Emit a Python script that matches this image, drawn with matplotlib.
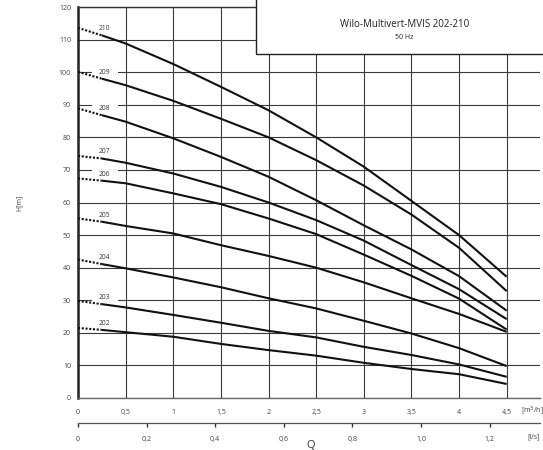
import matplotlib
matplotlib.use("Agg")
import matplotlib.pyplot as plt
from matplotlib.patches import Rectangle
import numpy as np

plt.rcParams["font.family"] = ["Open Sans", "DejaVu Sans"]

# flow Q [m3/h] and head H [m] for each pump size
q = [0, 0.25, 0.5, 1.0, 1.5, 2.0, 2.5, 3.0, 3.5, 4.0, 4.5]
h210 = [113.6, 111.3, 108.8, 102.5, 95.5, 88.3, 80.0, 71.0, 60.5, 50.0, 37.2]
h209 = [100.1, 98.0, 96.0, 91.2, 85.7, 80.0, 73.0, 65.2, 56.3, 46.1, 32.8]
h208 = [88.9, 86.8, 84.8, 79.7, 74.0, 67.9, 60.7, 53.0, 45.6, 37.4, 26.8]
h207 = [74.3, 73.5, 72.2, 68.9, 64.8, 60.0, 54.6, 48.3, 40.8, 33.4, 24.2]
h206 = [67.4, 66.7, 65.9, 62.8, 59.5, 55.1, 50.3, 44.0, 37.5, 30.5, 21.0]
h205 = [55.1, 54.1, 52.8, 50.5, 46.9, 43.6, 40.0, 35.5, 30.6, 25.8, 20.3]
h204 = [42.5, 41.1, 39.8, 37.0, 34.0, 30.6, 27.5, 23.7, 19.8, 15.3, 9.8]
h203 = [29.8, 28.8, 27.8, 25.5, 23.1, 20.6, 18.6, 15.7, 13.2, 10.3, 6.5]
h202 = [21.5, 20.9, 20.2, 18.8, 16.6, 14.7, 13.0, 10.8, 8.9, 7.3, 4.3]

names = ["210", "209", "208", "207", "206", "205", "204", "203", "202"]
curves = [h210, h209, h208, h207, h206, h205, h204, h203, h202]

q_ticks = [0, 0.5, 1, 1.5, 2, 2.5, 3, 3.5, 4, 4.5]
q_labels = ["0", "0,5", "1", "1,5", "2", "2,5", "3", "3,5", "4", "4,5"]
ls_ticks = [0, 0.2, 0.4, 0.6, 0.8, 1.0, 1.2]
ls_labels = ["0", "0,2", "0,4", "0,6", "0,8", "1,0", "1,2"]
h_ticks = list(range(0, 121, 10))

fig = plt.figure(figsize=(5.43, 4.5), dpi=100)
ax = fig.add_axes([78/543, 1-398/450, 462/543, 391/450])

ax.set_xlim(0, 4.85)
ax.set_ylim(0, 120)

for name, h in zip(names, curves):
    # dotted start up to the first point, solid afterwards
    ax.plot(q[:2], h[:2], color="#111", lw=1.5, ls=(0, (1, 0.8)), zorder=3)
    ax.plot(q[1:], h[1:], color="#111", lw=1.5, zorder=3,
            solid_capstyle="butt", solid_joinstyle="round")
    yl = h[1] + 2.0
    ax.add_patch(Rectangle((0.15, yl - 1.4), 0.27, 2.8, facecolor="white",
                           edgecolor="none", zorder=2))
    ax.text(0.28, yl, name, fontsize=4.8, color="#333", ha="center",
            va="center", zorder=4)

ax.set_xticks(q_ticks)
ax.set_xticklabels(q_labels)
ax.set_yticks(h_ticks)
ax.tick_params(axis="both", length=0, labelsize=5, labelcolor="#444")
ax.tick_params(axis="x", pad=8)
ax.tick_params(axis="y", pad=5)
ax.grid(True, color="#3a3a3a", lw=0.8)
ax.set_axisbelow(True)

ax.spines["right"].set_visible(False)
ax.spines["left"].set_linewidth(1.8)
ax.spines["left"].set_color("#222")
ax.spines["top"].set_linewidth(1.0)
ax.spines["top"].set_color("#333")
ax.spines["bottom"].set_linewidth(1.0)
ax.spines["bottom"].set_color("#666")

ax.text(4.77, -0.033, "[m$^3$/h]", transform=ax.get_xaxis_transform(),
        fontsize=5, color="#444", ha="center", va="center")

sec = ax.secondary_xaxis(-0.064, functions=(lambda x: x / 3.6, lambda x: x * 3.6))
sec.set_xticks(ls_ticks)
sec.set_xticklabels(ls_labels)
sec.tick_params(length=3, width=1, color="#333", labelsize=5, labelcolor="#444", pad=6)
sec.spines["bottom"].set_color("#555")
sec.spines["bottom"].set_linewidth(0.9)
ax.text(4.78, -0.1, "[l/s]", transform=ax.get_xaxis_transform(),
        fontsize=5, color="#444", ha="center", va="center")

ax.set_ylabel("H[m]", fontsize=5, color="#444", labelpad=26)

fig.text(311/543, 1-440/450, "Q", fontsize=8, color="#333", ha="center", va="top")

# title box
ax.add_patch(Rectangle((0.385, 0.88), 0.7, 0.2, transform=ax.transAxes,
                       facecolor="white", edgecolor="#222", lw=1.0,
                       zorder=5, clip_on=False))
ax.text(0.706, 0.954, "Wilo-Multivert-MVIS 202-210", transform=ax.transAxes,
        fontsize=7, color="#222", ha="center", va="center", zorder=6)
ax.text(0.706, 0.921, "50 Hz", transform=ax.transAxes,
        fontsize=5, color="#222", ha="center", va="center", zorder=6)

fig.savefig("out.png", dpi=100)
